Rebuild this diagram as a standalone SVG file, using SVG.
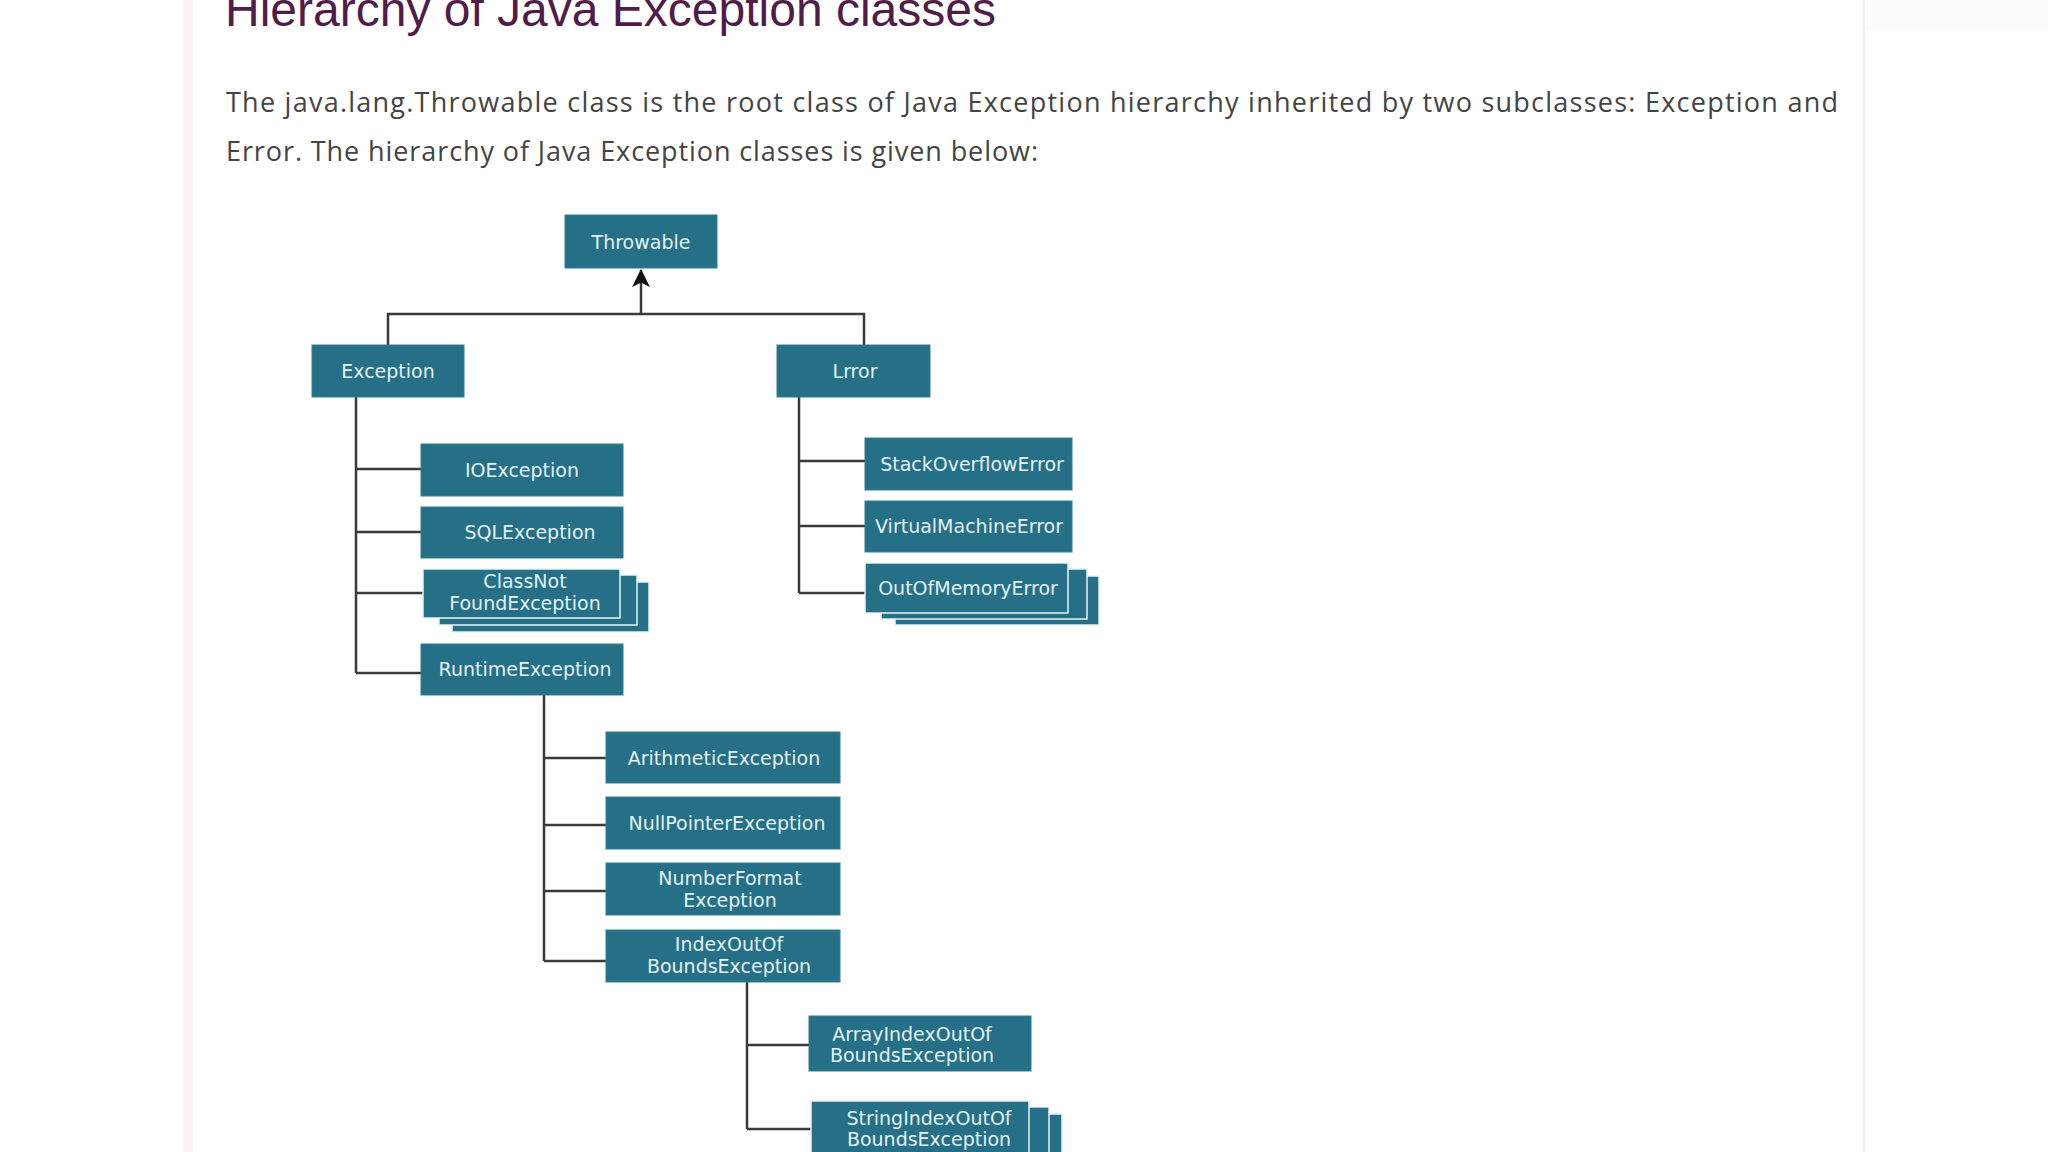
<svg xmlns="http://www.w3.org/2000/svg" width="2048" height="1152" viewBox="0 0 2048 1152">
<defs>
<style>
.bg{fill:#ffffff}
.node{fill:#256f87;stroke:#2f7f97;stroke-width:1}
.layer{fill:#256f87;stroke:#e6f3f6;stroke-width:1.5}
.lbl{font-family:"DejaVu Sans",Verdana,sans-serif;font-size:19px;fill:#e2f2f6;text-anchor:middle}
.conn{fill:none;stroke:#3a3a3a;stroke-width:2.5}
.title{font-family:"Liberation Sans",Arial,sans-serif;font-size:48px;fill:#501c48}
.para{font-family:"Open Sans","Noto Sans",sans-serif;font-size:27px;fill:#444444}
</style>
<marker id="arr" viewBox="0 0 20 20" refX="19" refY="10" markerWidth="18" markerHeight="20" markerUnits="userSpaceOnUse" orient="auto">
<path d="M0,0 L20,10 L0,20 L5,10 z" fill="#111111"/>
</marker>
</defs>
<rect class="bg" x="0" y="0" width="2048" height="1152"/>
<rect x="183" y="0" width="10" height="1152" fill="#fbf1f4"/>
<rect x="1865" y="0" width="183" height="30" fill="#fcfcfc"/>
<line x1="1864" y1="0" x2="1864" y2="1152" stroke="#ececec" stroke-width="1.5"/>

<text class="title" x="225" y="26">Hierarchy of Java Exception classes</text>
<text class="para" x="226" y="112" textLength="1612" lengthAdjust="spacing">The java.lang.Throwable class is the root class of Java Exception hierarchy inherited by two subclasses: Exception and</text>
<text class="para" x="226" y="161" textLength="812" lengthAdjust="spacing">Error. The hierarchy of Java Exception classes is given below:</text>

<g id="connectors">
<line class="conn" x1="641" y1="314" x2="641" y2="270" marker-end="url(#arr)"/>
<path class="conn" d="M388,345 V314 H864 V345"/>
<path class="conn" d="M356,397 V673 M356,469 H421 M356,532 H421 M356,593 H423 M356,673 H421"/>
<path class="conn" d="M799,397 V593 M799,461 H865 M799,526 H865 M799,593 H865"/>
<path class="conn" d="M544,695 V961 M544,758 H606 M544,825 H606 M544,891 H606 M544,961 H606"/>
<path class="conn" d="M747,982 V1129 M747,1045 H809 M747,1129 H811"/>
</g>

<g id="throwable">
<rect class="node" x="565" y="215" width="152" height="53"/>
<text class="lbl" x="641" y="249">Throwable</text>
</g>
<g id="exception">
<rect class="node" x="312" y="345" width="152" height="52"/>
<text class="lbl" x="388" y="378">Exception</text>
</g>
<g id="error">
<rect class="node" x="777" y="345" width="153" height="52"/>
<text class="lbl" x="855" y="378">Lrror</text>
</g>
<g id="ioexception">
<rect class="node" x="421" y="444" width="202" height="52"/>
<text class="lbl" x="522" y="477">IOException</text>
</g>
<g id="sqlexception">
<rect class="node" x="421" y="507" width="202" height="51"/>
<text class="lbl" x="530" y="539">SQLException</text>
</g>
<g id="classnotfoundexception">
<rect class="layer" x="452" y="582" width="197" height="50"/>
<rect class="layer" x="439" y="575" width="198" height="50"/>
<rect class="layer" x="423" y="569" width="197" height="49"/>
<text class="lbl" x="525" y="588">ClassNot</text>
<text class="lbl" x="525" y="610">FoundException</text>
</g>
<g id="runtimeexception">
<rect class="node" x="421" y="644" width="202" height="51"/>
<text class="lbl" x="525" y="676">RuntimeException</text>
</g>
<g id="stackoverflowerror">
<rect class="node" x="865" y="438" width="207" height="52"/>
<text class="lbl" x="972" y="471">StackOverflowError</text>
</g>
<g id="virtualmachineerror">
<rect class="node" x="865" y="501" width="207" height="51"/>
<text class="lbl" x="969" y="533">VirtualMachineError</text>
</g>
<g id="outofmemoryerror">
<rect class="layer" x="895" y="576" width="204" height="49"/>
<rect class="layer" x="881" y="569" width="206" height="50"/>
<rect class="layer" x="865" y="563" width="203" height="50"/>
<text class="lbl" x="968" y="595">OutOfMemoryError</text>
</g>
<g id="arithmeticexception">
<rect class="node" x="606" y="732" width="234" height="51"/>
<text class="lbl" x="724" y="765">ArithmeticException</text>
</g>
<g id="nullpointerexception">
<rect class="node" x="606" y="797" width="234" height="52"/>
<text class="lbl" x="727" y="830">NullPointerException</text>
</g>
<g id="numberformatexception">
<rect class="node" x="606" y="863" width="234" height="52"/>
<text class="lbl" x="730" y="885">NumberFormat</text>
<text class="lbl" x="730" y="907">Exception</text>
</g>
<g id="indexoutofboundsexception">
<rect class="node" x="606" y="930" width="234" height="52"/>
<text class="lbl" x="729" y="951">IndexOutOf</text>
<text class="lbl" x="729" y="973">BoundsException</text>
</g>
<g id="arrayindexoutofboundsexception">
<rect class="node" x="809" y="1016" width="222" height="55"/>
<text class="lbl" x="912" y="1041">ArrayIndexOutOf</text>
<text class="lbl" x="912" y="1062">BoundsException</text>
</g>
<g id="stringindexoutofboundsexception">
<rect class="layer" x="841" y="1114" width="221" height="60"/>
<rect class="layer" x="826" y="1107" width="223" height="60"/>
<rect class="layer" x="811" y="1101" width="218" height="60"/>
<text class="lbl" x="929" y="1125">StringIndexOutOf</text>
<text class="lbl" x="929" y="1146">BoundsException</text>
</g>
</svg>
